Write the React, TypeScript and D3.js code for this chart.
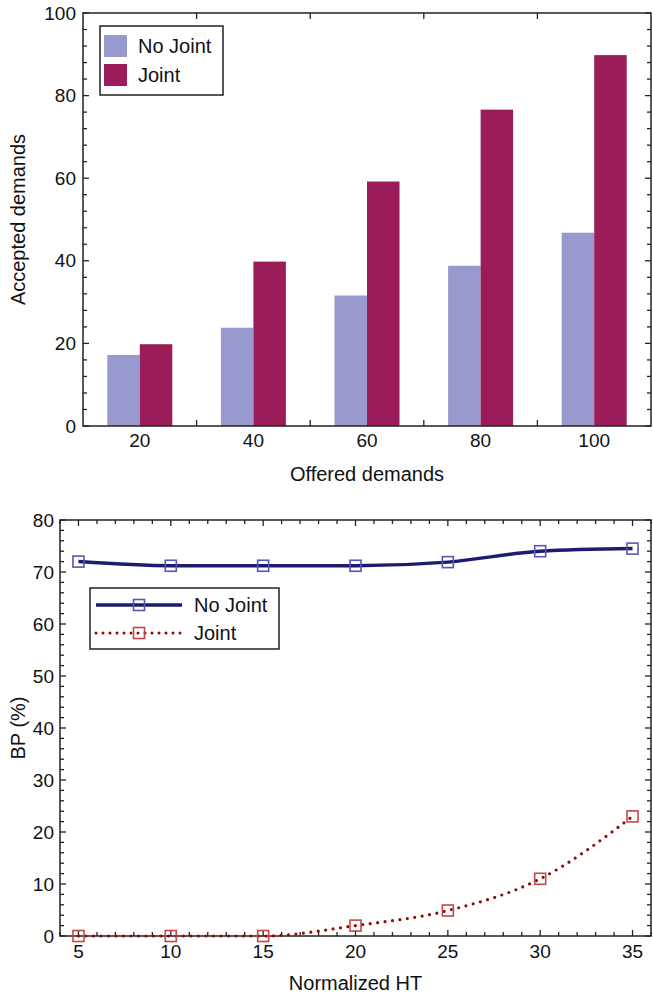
import React, { useRef, useEffect } from "react";
import * as d3 from "d3";

// top chart: accepted demands
const offered = ["20", "40", "60", "80", "100"];
const acceptedNoJoint = [17.2, 23.8, 31.6, 38.8, 46.8];
const acceptedJoint = [19.8, 39.8, 59.2, 76.6, 89.8];
const barSeries = ["No Joint", "Joint"];

// bottom chart: blocking probability
const normalizedHT = [5, 10, 15, 20, 25, 30, 35];
const bpNoJoint = [72, 71.2, 71.2, 71.2, 71.9, 74, 74.5];
const bpJoint = [0, 0, 0, 2, 4.9, 11, 23];

const W = 653;
const H = 994;
const FONT = "'Liberation Sans', Arial, Helvetica, sans-serif";
const AXIS = "#222";

const App = () => {
  const ref = useRef<SVGSVGElement>(null);

  useEffect(() => {
    const svg = d3.select(ref.current);
    svg.selectAll("*").remove();
    svg.style("font-family", FONT);

    // ---------- top: grouped bars ----------
    const t = { left: 83, right: 651, top: 13, bottom: 426 };
    const x0 = d3.scaleBand().domain(offered).range([t.left, t.right]);
    const x1 = d3.scaleBand().domain(barSeries).range([0, 65]);
    const y = d3.scaleLinear().domain([0, 100]).range([t.bottom, t.top]);
    const barColor = d3.scaleOrdinal<string>().domain(barSeries).range(["#9899cc", "#9a1d5a"]);

    const rows = offered.map((o, i) => ({ o, vals: [acceptedNoJoint[i], acceptedJoint[i]] }));
    const g = svg.append("g");
    rows.forEach((r) => {
      r.vals.forEach((v, j) => {
        const s = barSeries[j];
        g.append("rect")
          .attr("x", x0(r.o)! + x0.bandwidth() / 2 - 32.5 + x1(s)!)
          .attr("y", y(v))
          .attr("width", x1.bandwidth())
          .attr("height", y(0) - y(v))
          .attr("fill", barColor(s));
      });
    });

    // frame
    g.append("rect")
      .attr("x", t.left).attr("y", t.top)
      .attr("width", t.right - t.left).attr("height", t.bottom - t.top)
      .attr("fill", "none").attr("stroke", AXIS).attr("stroke-width", 1.5);

    // y ticks (inside, both sides)
    d3.range(0, 101, 4).forEach((v) => {
      const major = v % 20 === 0;
      const len = major ? 6 : 4;
      g.append("line").attr("x1", t.left).attr("x2", t.left + len).attr("y1", y(v)).attr("y2", y(v)).attr("stroke", AXIS).attr("stroke-width", 1.3);
      g.append("line").attr("x1", t.right).attr("x2", t.right - len).attr("y1", y(v)).attr("y2", y(v)).attr("stroke", AXIS).attr("stroke-width", 1.3);
      if (major) {
        g.append("text").attr("x", t.left - 7).attr("y", y(v) + 6.5).attr("text-anchor", "end")
          .attr("font-size", 19).attr("fill", "#111").text(v);
      }
    });
    // x ticks between groups
    offered.slice(1).forEach((o) => {
      const xx = x0(o)!;
      g.append("line").attr("x1", xx).attr("x2", xx).attr("y1", t.bottom).attr("y2", t.bottom - 6).attr("stroke", AXIS).attr("stroke-width", 1.3);
      g.append("line").attr("x1", xx).attr("x2", xx).attr("y1", t.top).attr("y2", t.top + 6).attr("stroke", AXIS).attr("stroke-width", 1.3);
    });
    offered.forEach((o) => {
      g.append("text").attr("x", x0(o)! + x0.bandwidth() / 2).attr("y", 447).attr("text-anchor", "middle")
        .attr("font-size", 19).attr("fill", "#111").text(o);
    });

    g.append("text").attr("x", (t.left + t.right) / 2).attr("y", 481).attr("text-anchor", "middle")
      .attr("font-size", 20).attr("fill", "#111").text("Offered demands");
    g.append("text").attr("transform", `translate(25,${(t.top + t.bottom) / 2}) rotate(-90)`)
      .attr("text-anchor", "middle").attr("font-size", 20).attr("fill", "#111").text("Accepted demands");

    // legend
    const lg = g.append("g");
    lg.append("rect").attr("x", 100).attr("y", 26).attr("width", 123).attr("height", 69)
      .attr("fill", "white").attr("stroke", AXIS).attr("stroke-width", 1.5);
    barSeries.forEach((s, i) => {
      lg.append("rect").attr("x", 104).attr("y", 35 + i * 29).attr("width", 23).attr("height", 22).attr("fill", barColor(s));
      lg.append("text").attr("x", 138).attr("y", 53 + i * 29).attr("font-size", 20).attr("fill", "#111").text(s);
    });

    // ---------- bottom: lines ----------
    const b = { left: 60, right: 651, top: 520, bottom: 936 };
    const x = d3.scaleLinear().domain([4, 36]).range([b.left, b.right]);
    const yb = d3.scaleLinear().domain([0, 80]).range([b.bottom, b.top]);
    const g2 = svg.append("g");

    d3.range(4, 37, 1).forEach((v) => {
      const major = v % 5 === 0;
      const len = major ? 6 : 4;
      g2.append("line").attr("x1", x(v)).attr("x2", x(v)).attr("y1", b.bottom).attr("y2", b.bottom - len).attr("stroke", AXIS).attr("stroke-width", 1.3);
      g2.append("line").attr("x1", x(v)).attr("x2", x(v)).attr("y1", b.top).attr("y2", b.top + len).attr("stroke", AXIS).attr("stroke-width", 1.3);
    });
    normalizedHT.forEach((v) => {
      g2.append("text").attr("x", x(v)).attr("y", 958).attr("text-anchor", "middle")
        .attr("font-size", 19).attr("fill", "#111").text(v);
    });
    d3.range(0, 81, 2).forEach((v) => {
      const major = v % 10 === 0;
      const len = major ? 6 : 4;
      g2.append("line").attr("x1", b.left).attr("x2", b.left + len).attr("y1", yb(v)).attr("y2", yb(v)).attr("stroke", AXIS).attr("stroke-width", 1.3);
      g2.append("line").attr("x1", b.right).attr("x2", b.right - len).attr("y1", yb(v)).attr("y2", yb(v)).attr("stroke", AXIS).attr("stroke-width", 1.3);
      if (major) {
        g2.append("text").attr("x", b.left - 6).attr("y", yb(v) + 6.5).attr("text-anchor", "end")
          .attr("font-size", 19).attr("fill", "#111").text(v);
      }
    });
    g2.append("rect")
      .attr("x", b.left).attr("y", b.top)
      .attr("width", b.right - b.left).attr("height", b.bottom - b.top)
      .attr("fill", "none").attr("stroke", AXIS).attr("stroke-width", 1.5);

    const line = d3.line<number>()
      .x((_, i) => x(normalizedHT[i]))
      .y((d) => yb(d))
      .curve(d3.curveMonotoneX);

    g2.append("path").attr("d", line(bpNoJoint)).attr("fill", "none")
      .attr("stroke", "#1b1b6f").attr("stroke-width", 3.5);
    g2.append("path").attr("d", line(bpJoint)).attr("fill", "none")
      .attr("stroke", "#8a0c0c").attr("stroke-width", 3.2)
      .attr("stroke-linecap", "round").attr("stroke-dasharray", "0 7.5");

    const marker = (gg: any, cx: number, cy: number, color: string) => {
      gg.append("rect").attr("x", cx - 5.5).attr("y", cy - 5.5).attr("width", 11).attr("height", 11)
        .attr("fill", "none").attr("stroke", color).attr("stroke-width", 1.6);
    };
    bpNoJoint.forEach((v, i) => marker(g2, x(normalizedHT[i]), yb(v), "#5656b8"));
    bpJoint.forEach((v, i) => marker(g2, x(normalizedHT[i]), yb(v), "#c44848"));

    g2.append("text").attr("x", (b.left + b.right) / 2).attr("y", 990).attr("text-anchor", "middle")
      .attr("font-size", 20).attr("fill", "#111").text("Normalized HT");
    g2.append("text").attr("transform", `translate(25,${(b.top + b.bottom) / 2}) rotate(-90)`)
      .attr("text-anchor", "middle").attr("font-size", 20).attr("fill", "#111").text("BP (%)");

    // legend
    const lg2 = g2.append("g");
    lg2.append("rect").attr("x", 90).attr("y", 588).attr("width", 189).attr("height", 61)
      .attr("fill", "white").attr("stroke", AXIS).attr("stroke-width", 1.5);
    lg2.append("line").attr("x1", 96).attr("x2", 182).attr("y1", 605).attr("y2", 605)
      .attr("stroke", "#1b1b6f").attr("stroke-width", 3.5);
    marker(lg2, 139, 605, "#5656b8");
    lg2.append("line").attr("x1", 96).attr("x2", 182).attr("y1", 633).attr("y2", 633)
      .attr("stroke", "#8a0c0c").attr("stroke-width", 3).attr("stroke-linecap", "round").attr("stroke-dasharray", "0 7");
    marker(lg2, 139, 633, "#c44848");
    lg2.append("text").attr("x", 194).attr("y", 612).attr("font-size", 20).attr("fill", "#111").text(barSeries[0]);
    lg2.append("text").attr("x", 194).attr("y", 640).attr("font-size", 20).attr("fill", "#111").text(barSeries[1]);
  }, []);

  return (
    <svg
      ref={ref}
      width={W}
      height={H}
      style={{ position: "absolute", left: 0, top: 0, background: "white" }}
    />
  );
};

export default App;
